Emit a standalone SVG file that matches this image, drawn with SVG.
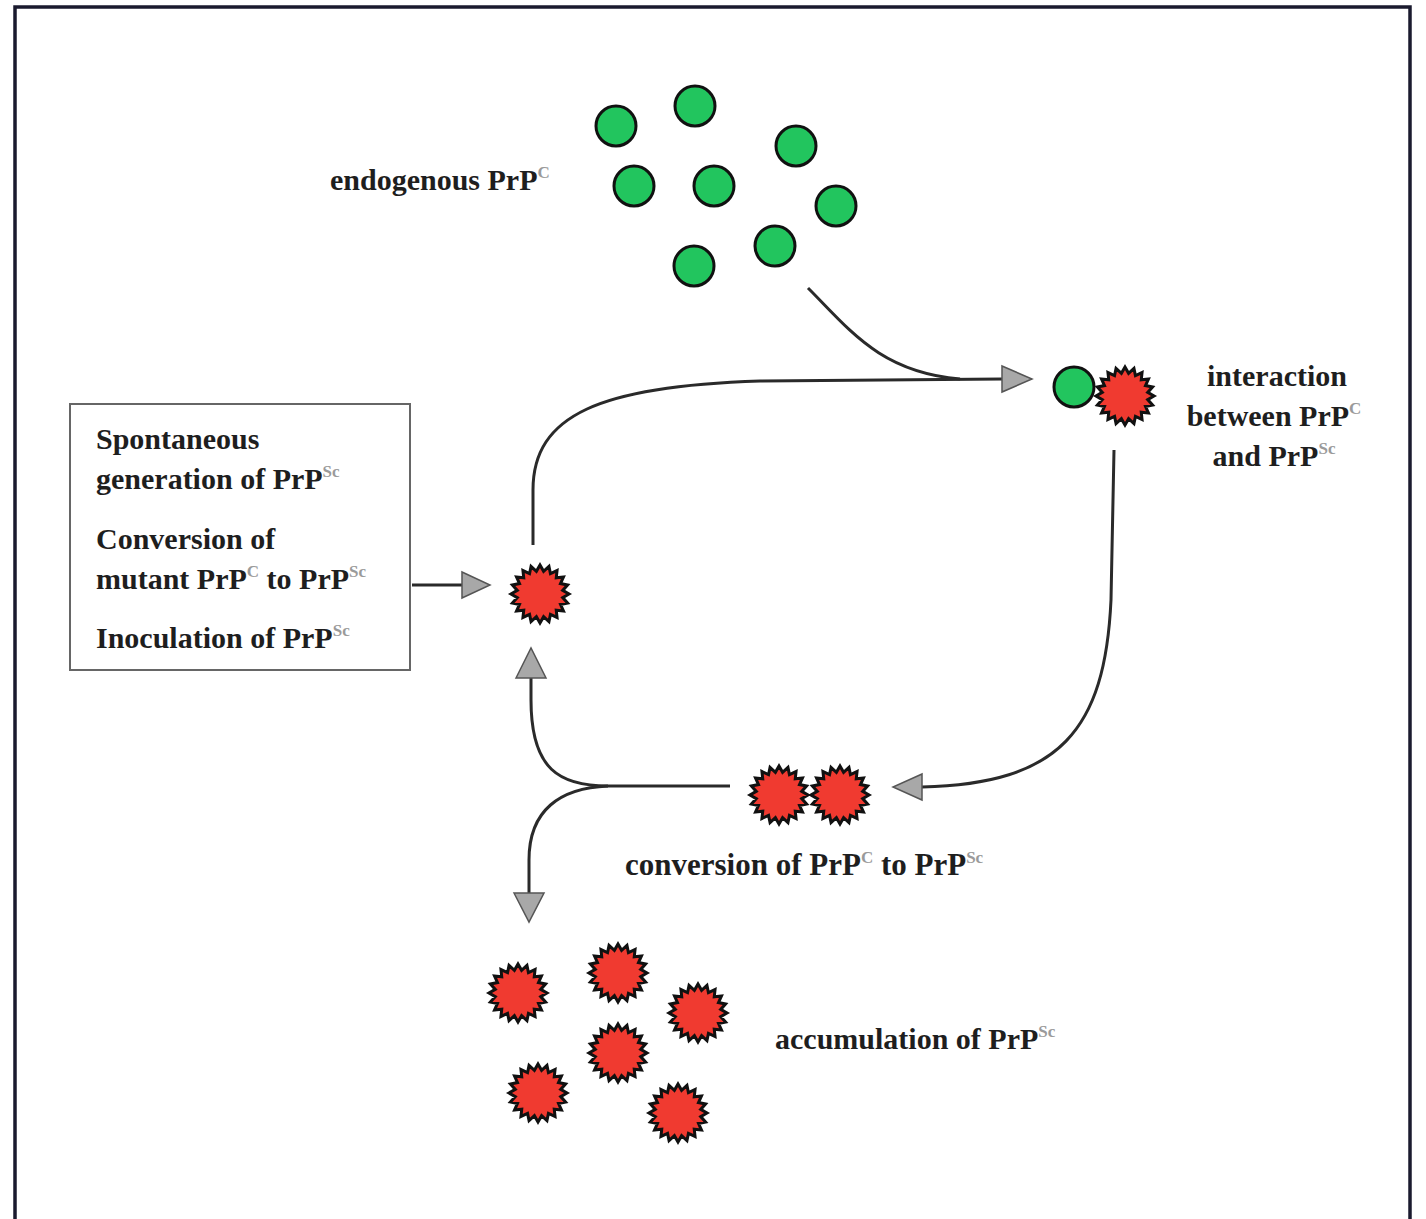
<svg xmlns="http://www.w3.org/2000/svg" width="1426" height="1219" viewBox="0 0 1426 1219">
<style>
.t{font-family:"Liberation Serif","Times New Roman",serif;font-weight:bold;font-size:30px;fill:#1e1e1e}
.sup{font-size:17px;fill:#9a9a9a}
.g{fill:#22c55e;stroke:#111;stroke-width:3}
.s{fill:#f03a30;stroke:#111;stroke-width:3;stroke-linejoin:miter}
.ln{fill:none;stroke:#2a2a2a;stroke-width:3}
.ah{fill:#a8a8a8;stroke:#555;stroke-width:1.5}
</style>
<defs>
<polygon id="star" class="s" points="29,0 22.71,3.60 27.58,8.96 20.49,10.44 23.46,17.05 16.26,16.26 17.05,23.46 10.44,20.49 8.96,27.58 3.60,22.71 0,29 -3.60,22.71 -8.96,27.58 -10.44,20.49 -17.05,23.46 -16.26,16.26 -23.46,17.05 -20.49,10.44 -27.58,8.96 -22.71,3.60 -29,0 -22.71,-3.60 -27.58,-8.96 -20.49,-10.44 -23.46,-17.05 -16.26,-16.26 -17.05,-23.46 -10.44,-20.49 -8.96,-27.58 -3.60,-22.71 0,-29 3.60,-22.71 8.96,-27.58 10.44,-20.49 17.05,-23.46 16.26,-16.26 23.46,-17.05 20.49,-10.44 27.58,-8.96 22.71,-3.60"/>
</defs>
<rect width="1426" height="1219" fill="#fff"/>
<path d="M15,1219 V7 H1410 V1219" fill="none" stroke="#1a1a2e" stroke-width="3.5"/>

<g id="connectors">
<path class="ln" d="M808,288 C850,330 880,372 960,379"/>
<path class="ln" d="M533,545 L533,490 C533,415 600,386 760,381 L1002,379"/>
<polygon class="ah" points="1002,366 1032,379 1002,392"/>
<path class="ln" d="M412,585 L462,585"/>
<polygon class="ah" points="462,572 490,585 462,598"/>
<path class="ln" d="M1114,450 L1111,600 C1105,730 1060,784 922,787"/>
<polygon class="ah" points="922,774 893,787 922,800"/>
<path class="ln" d="M730,786 L608,786 C560,786 531,770 531,700 L531,678"/>
<polygon class="ah" points="516,678 531,648 546,678"/>
<path class="ln" d="M608,786 C560,788 529,810 529,860 L529,893"/>
<polygon class="ah" points="514,893 529,922 544,893"/>
</g>

<g id="endogenous">
<circle class="g" cx="616" cy="126" r="20"/>
<circle class="g" cx="695" cy="106" r="20"/>
<circle class="g" cx="796" cy="146" r="20"/>
<circle class="g" cx="634" cy="186" r="20"/>
<circle class="g" cx="714" cy="186" r="20"/>
<circle class="g" cx="836" cy="206" r="20"/>
<circle class="g" cx="775" cy="246" r="20"/>
<circle class="g" cx="694" cy="266" r="20"/>
<text class="t" x="330" y="190">endogenous PrP<tspan class="sup" dy="-12">C</tspan></text>
</g>

<g id="interaction">
<circle class="g" cx="1074" cy="387" r="20"/>
<use href="#star" x="1125" y="396"/>
<text class="t" text-anchor="middle" x="1277" y="386">interaction</text>
<text class="t" text-anchor="middle" x="1274" y="426">between PrP<tspan class="sup" dy="-12">C</tspan></text>
<text class="t" text-anchor="middle" x="1274" y="466">and PrP<tspan class="sup" dy="-12">Sc</tspan></text>
</g>

<g id="sources">
<rect x="70" y="404" width="340" height="266" fill="#fff" stroke="#666" stroke-width="2"/>
<text class="t" x="96" y="449">Spontaneous</text>
<text class="t" x="96" y="489">generation of PrP<tspan class="sup" dy="-12">Sc</tspan></text>
<text class="t" x="96" y="549">Conversion of</text>
<text class="t" x="96" y="589">mutant PrP<tspan class="sup" dy="-12">C</tspan><tspan dy="12"> to PrP</tspan><tspan class="sup" dy="-12">Sc</tspan></text>
<text class="t" x="96" y="648">Inoculation of PrP<tspan class="sup" dy="-12">Sc</tspan></text>
</g>

<g id="prpsc">
<use href="#star" x="540" y="594"/>
</g>

<g id="conversion">
<use href="#star" x="779" y="795"/>
<use href="#star" x="840" y="795"/>
<text class="t" x="625" y="875" style="font-size:31px">conversion of PrP<tspan class="sup" dy="-12">C</tspan><tspan dy="12"> to PrP</tspan><tspan class="sup" dy="-12">Sc</tspan></text>
</g>

<g id="accumulation">
<use href="#star" x="518" y="993"/>
<use href="#star" x="618" y="973"/>
<use href="#star" x="698" y="1013"/>
<use href="#star" x="618" y="1053"/>
<use href="#star" x="538" y="1093"/>
<use href="#star" x="678" y="1113"/>
<text class="t" x="775" y="1049">accumulation of PrP<tspan class="sup" dy="-12">Sc</tspan></text>
</g>
</svg>
